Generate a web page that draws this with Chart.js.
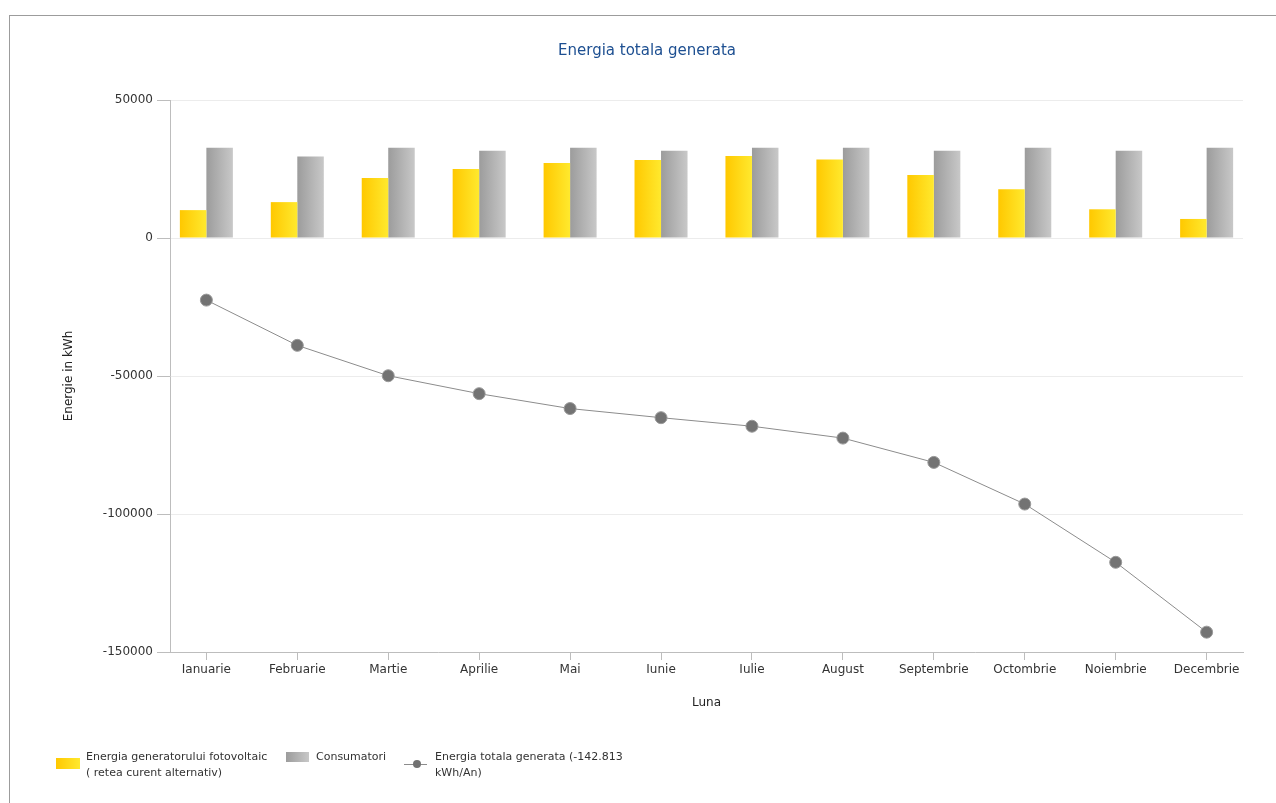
<!DOCTYPE html>
<html>
<head>
<meta charset="utf-8">
<title>Energia totala generata</title>
<script src="https://cdn.jsdelivr.net/npm/chart.js@4/dist/chart.umd.min.js"></script>
<style>
  body { margin: 0; background: #fff; font-family: "DejaVu Sans", sans-serif; }
  #wrap { position: relative; width: 1276px; height: 803px; overflow: hidden; }
  #frame { position: absolute; left: 9px; top: 15px; width: 1400px; height: 900px;
           border-top: 1px solid #9c9c9c; border-left: 1px solid #9c9c9c; }
  #chart { position: absolute; left: 0; top: 0; }
  .lg { position: absolute; font-size: 11px; line-height: 16px; color: #333; white-space: nowrap; }
  .sw { position: absolute; }
</style>
</head>
<body>
<div id="wrap">
  <div id="frame"></div>
  <canvas id="chart" width="1276" height="803"></canvas>

  <div class="sw" style="left:56px;top:758px;width:24px;height:11px;background:linear-gradient(to right,#ffc800,#ffe92e);"></div>
  <div class="lg" style="left:86px;top:749px;">Energia generatorului fotovoltaic<br>( retea curent alternativ)</div>

  <div class="sw" style="left:286px;top:752px;width:23px;height:10px;background:linear-gradient(to right,#9c9c9c,#c8c8c8);"></div>
  <div class="lg" style="left:316px;top:749px;">Consumatori</div>

  <div class="sw" style="left:404px;top:764px;width:23px;height:1px;background:#8c8c8c;"></div>
  <div class="sw" style="left:413px;top:760px;width:8px;height:8px;border-radius:50%;background:#727272;"></div>
  <div class="lg" style="left:435px;top:749px;">Energia totala generata (-142.813<br>kWh/An)</div>
</div>

<script>
var MONTHS = ['Ianuarie', 'Februarie', 'Martie', 'Aprilie', 'Mai', 'Iunie',
  'Iulie', 'August', 'Septembrie', 'Octombrie', 'Noiembrie', 'Decembrie'];

// kWh per luna
var PV_ENERGY = [10100, 13000, 21700, 25000, 27200, 28300, 29700, 28400, 22800, 17700, 10400, 6900];
var CONSUMERS = [32700, 29500, 32700, 31600, 32700, 31600, 32700, 32700, 31600, 32700, 31600, 32700];
var TOTAL_GENERATED = [-22500, -38900, -49900, -56400, -61800, -65100, -68200, -72500, -81300, -96400, -117500, -142813];

var Y_TICKS = [-150000, -100000, -50000, 0, 50000];

var CAT_PCT = 0.583;
var FONT = '"DejaVu Sans", sans-serif';

function toPoints(values) {
  return values.map(function(v, i) { return { x: i, y: v }; });
}

// horizontal gradient across each bar
function barGradient(from, to, side) {
  return function(ctx) {
    var chart = ctx.chart;
    if (!chart.chartArea || ctx.dataIndex === undefined) return from;
    var xs = chart.scales.x;
    var c = xs.getPixelForValue(ctx.dataIndex);
    var size = Math.abs(xs.getPixelForValue(1) - xs.getPixelForValue(0)) * CAT_PCT;
    var left = c - size / 2 + side * size / 2;
    var g = chart.ctx.createLinearGradient(left, 0, left + size / 2, 0);
    g.addColorStop(0, from);
    g.addColorStop(1, to);
    return g;
  };
}

new Chart(document.getElementById('chart'), {
  type: 'bar',
  data: {
    datasets: [
      {
        label: 'Energia generatorului fotovoltaic ( retea curent alternativ)',
        data: toPoints(PV_ENERGY),
        backgroundColor: barGradient('#ffc800', '#ffe92e', 0),
        categoryPercentage: CAT_PCT,
        barPercentage: 1
      },
      {
        label: 'Consumatori',
        data: toPoints(CONSUMERS),
        backgroundColor: barGradient('#9c9c9c', '#c8c8c8', 1),
        categoryPercentage: CAT_PCT,
        barPercentage: 1
      },
      {
        type: 'line',
        label: 'Energia totala generata (-142.813 kWh/An)',
        data: toPoints(TOTAL_GENERATED),
        borderColor: '#8c8c8c',
        borderWidth: 1,
        tension: 0,
        pointRadius: 6,
        pointBackgroundColor: '#737373',
        pointBorderColor: '#999',
        pointBorderWidth: 1
      }
    ]
  },
  options: {
    responsive: false,
    animation: false,
    layout: { padding: { left: 51, right: 33, top: 0, bottom: 73 } },
    plugins: {
      legend: { display: false },
      tooltip: { enabled: false },
      title: {
        display: true,
        text: 'Energia totala generata',
        color: '#1d4f91',
        font: { family: FONT, size: 15, weight: 'normal' },
        padding: { top: 42, bottom: 40 }
      }
    },
    scales: {
      x: {
        type: 'linear',
        min: -0.4,
        max: 11.4,
        offset: false,
        afterFit: function(scale) { scale.height = 78; },
        grid: { offset: false, drawOnChartArea: false, drawTicks: true, tickLength: 8, tickColor: '#bdbdbd' },
        border: { color: '#bdbdbd', width: 1 },
        ticks: {
          stepSize: 1,
          includeBounds: false,
          autoSkip: false,
          maxRotation: 0,
          padding: 3,
          color: '#333',
          font: { family: FONT, size: 12 },
          callback: function(v) { return MONTHS[v] !== undefined ? MONTHS[v] : ''; }
        },
        title: {
          display: true,
          text: 'Luna',
          color: '#222',
          font: { family: FONT, size: 12 },
          padding: { top: 4, bottom: 20 }
        }
      },
      y: {
        min: Y_TICKS[0],
        max: Y_TICKS[Y_TICKS.length - 1],
        afterFit: function(scale) { scale.width = 119; },
        afterBuildTicks: function(scale) {
          scale.ticks = Y_TICKS.map(function(v) { return { value: v }; });
        },
        grid: { color: '#ececec', tickColor: '#bdbdbd', tickLength: 13 },
        border: { color: '#bdbdbd', width: 1 },
        ticks: {
          padding: 4,
          color: '#333',
          font: { family: FONT, size: 12 },
          callback: function(v) { return String(v); }
        },
        title: {
          display: true,
          text: 'Energie in kWh',
          color: '#222',
          font: { family: FONT, size: 12 },
          padding: { top: 11, bottom: 0 }
        }
      }
    }
  }
});
</script>
</body>
</html>
